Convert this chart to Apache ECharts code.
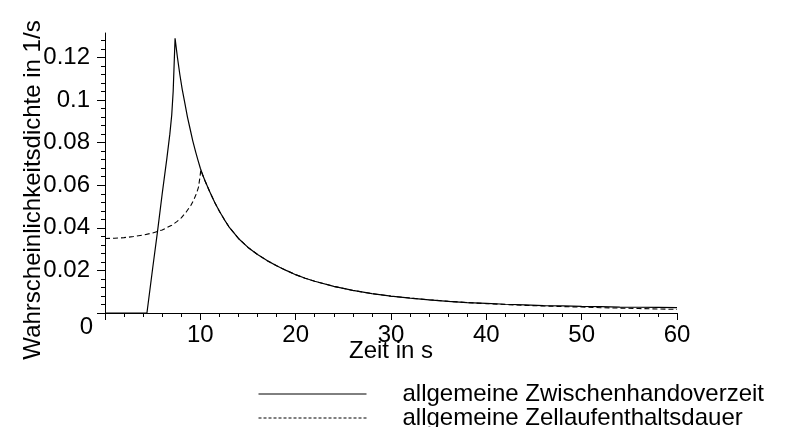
<!DOCTYPE html>
<html>
<head>
<meta charset="utf-8">
<script src="https://cdn.jsdelivr.net/npm/echarts@6/dist/echarts.min.js"></script>
<style>
  html, body { margin: 0; padding: 0; background: #fff; }
  #chart { width: 792px; height: 427px; }
</style>
</head>
<body>
<div id="chart"></div>
<script>
// ---- data ----
const seriesNames = ['allgemeine Zwischenhandoverzeit', 'allgemeine Zellaufenthaltsdauer'];

const xSolid = [0, 4.4, 5.0, 5.5, 6.0, 6.5, 6.8, 7.0, 7.15, 7.35, 7.6, 7.85, 8.1, 8.4, 8.65, 8.9, 9.2, 9.5, 9.75, 10, 10.25, 10.5, 11, 11.5, 12, 12.5, 13, 14, 15, 16, 17, 18, 19, 20, 21, 22, 24, 26, 28, 30, 32, 34, 36, 38, 40, 42, 44, 46, 48, 50, 52, 54, 56, 58, 60];
const ySolid = [0, 0, 0.021, 0.038, 0.056, 0.073, 0.084, 0.093, 0.104, 0.129, 0.120, 0.112, 0.105, 0.098, 0.092, 0.087, 0.081, 0.0758, 0.0718, 0.0680, 0.0648, 0.0620, 0.0568, 0.0520, 0.0478, 0.0440, 0.0405, 0.0350, 0.0308, 0.0275, 0.0246, 0.0222, 0.0200, 0.0180, 0.0163, 0.0149, 0.0125, 0.0106, 0.0091, 0.0079, 0.0070, 0.0062, 0.0055, 0.0049, 0.0045, 0.0041, 0.0038, 0.0035, 0.0033, 0.0031, 0.0030, 0.0028, 0.0027, 0.0026, 0.0025];

const xDashed = [0, 1, 2, 3, 4, 5, 6, 7, 7.5, 8, 8.5, 9, 9.3, 9.6, 9.8, 9.95, 10.05, 10.25, 10.5, 11, 11.5, 12, 12.5, 13, 14, 15, 16, 17, 18, 19, 20, 21, 22, 24, 26, 28, 30, 32, 34, 36, 38, 40, 42, 44, 46, 48, 50, 52, 54, 56, 58, 60];
const yDashed = [0.035, 0.0351, 0.0354, 0.0359, 0.0366, 0.0376, 0.039, 0.0412, 0.0428, 0.0447, 0.0473, 0.0505, 0.053, 0.0562, 0.059, 0.0635, 0.0671, 0.0648, 0.0620, 0.0568, 0.0520, 0.0478, 0.0440, 0.0405, 0.0350, 0.0308, 0.0275, 0.0246, 0.0222, 0.0200, 0.0180, 0.0163, 0.0149, 0.0125, 0.0106, 0.0091, 0.0079, 0.0070, 0.0062, 0.0055, 0.0049, 0.0044, 0.0040, 0.0036, 0.0033, 0.0030, 0.0028, 0.0025, 0.0023, 0.0021, 0.0019, 0.0017];

const yMajorTicks = [0, 0.02, 0.04, 0.06, 0.08, 0.1, 0.12];
const yTickLabels = ['0', '0.02', '0.04', '0.06', '0.08', '0.1', '0.12'];
const yMinorTicks = [0, 0.004, 0.008, 0.012, 0.016, 0.02, 0.024, 0.028, 0.032, 0.036, 0.04, 0.044, 0.048, 0.052, 0.056, 0.06, 0.064, 0.068, 0.072, 0.076, 0.08, 0.084, 0.088, 0.092, 0.096, 0.1, 0.104, 0.108, 0.112, 0.116, 0.12, 0.124, 0.128];
const xTickLabels = ['', '10', '20', '30', '40', '50', '60'];

const xTitle = 'Zeit in s';
const yTitle = 'Wahrscheinlichkeitsdichte in 1/s';

// ---- chart ----
const FONT = '"Liberation Sans", Arial, Helvetica, sans-serif';
const FS = 24;
const zip = (xs, ys) => xs.map((x, i) => [x, ys[i]]);

const chart = echarts.init(document.getElementById('chart'), null, { renderer: 'canvas' });
chart.setOption({
  animation: false,
  backgroundColor: '#fff',
  textStyle: { fontFamily: FONT, color: '#000' },
  grid: { left: 105, right: 115, top: 33, bottom: 114 },
  legend: {
    orient: 'horizontal',
    left: 253,
    top: 377,
    width: 515,
    itemWidth: 108,
    itemHeight: 14,
    itemGap: 0,
    itemStyle: { opacity: 0 },
    formatter: name => '{s|}{t|' + name + '}',
    textStyle: {
      fontFamily: FONT, color: '#000', fontSize: FS,
      rich: { s: { width: 31 }, t: { fontFamily: FONT, fontSize: FS, color: '#000' } }
    },
    data: [
      { name: seriesNames[0], lineStyle: { color: '#000', width: 1, type: 'solid' } },
      { name: seriesNames[1], lineStyle: { color: '#000', width: 1, type: [3, 2] } }
    ]
  },
  xAxis: {
    type: 'value',
    min: 0, max: 60, interval: 10,
    name: xTitle,
    nameLocation: 'middle',
    nameGap: 26,
    nameMoveOverlap: false,
    nameTextStyle: { fontFamily: FONT, fontSize: 24, color: '#000' },
    axisLine: { show: true, onZero: false, lineStyle: { color: '#000', width: 1 } },
    axisTick: { show: true, length: 7, lineStyle: { color: '#000' } },
    minorTick: { show: true, splitNumber: 5, length: 4, lineStyle: { color: '#000' } },
    splitLine: { show: false },
    minorSplitLine: { show: false },
    axisLabel: {
      fontFamily: FONT, fontSize: FS, color: '#000', margin: 10,
      formatter: v => xTickLabels[Math.round(v / 10)] || ''
    }
  },
  yAxis: [
    {
      type: 'value',
      min: 0, max: 0.1315,
      position: 'left',
      name: yTitle,
      nameLocation: 'middle',
      nameGap: 60,
      nameMoveOverlap: false,
      nameTextStyle: { fontFamily: FONT, fontSize: 24, color: '#000', padding: [0, 34, 0, 0] },
      axisLine: { show: true, onZero: false, lineStyle: { color: '#000', width: 1 } },
      axisTick: { show: true, length: 4, customValues: yMinorTicks, lineStyle: { color: '#000' } },
      splitLine: { show: false },
      axisLabel: {
        fontFamily: FONT, fontSize: FS, color: '#000', margin: 15,
        customValues: yMajorTicks,
        formatter: v => {
          const i = yMajorTicks.findIndex(t => Math.abs(t - v) < 1e-9);
          const s = i >= 0 ? yTickLabels[i] : '';
          return i === 0 ? '{z|' + s + '}' : s;
        },
        rich: { z: { fontFamily: FONT, fontSize: FS, color: '#000', padding: [28, -3, 0, 0] } }
      }
    },
    {
      type: 'value',
      min: 0, max: 0.1315,
      position: 'left',
      axisLine: { show: false },
      axisTick: { show: true, length: 8, customValues: yMajorTicks, lineStyle: { color: '#000' } },
      axisLabel: { show: false },
      splitLine: { show: false }
    }
  ],
  series: [
    {
      name: seriesNames[0],
      type: 'line',
      yAxisIndex: 0,
      data: zip(xSolid, ySolid),
      symbol: 'none',
      lineStyle: { color: '#000', width: 1.2, type: 'solid' },
      itemStyle: { color: '#000' },
      z: 3
    },
    {
      name: seriesNames[1],
      type: 'line',
      yAxisIndex: 0,
      data: zip(xDashed, yDashed),
      symbol: 'none',
      lineStyle: { color: '#000', width: 1.1, type: [5, 3] },
      itemStyle: { color: '#000' },
      z: 2
    }
  ]
});
</script>
</body>
</html>
